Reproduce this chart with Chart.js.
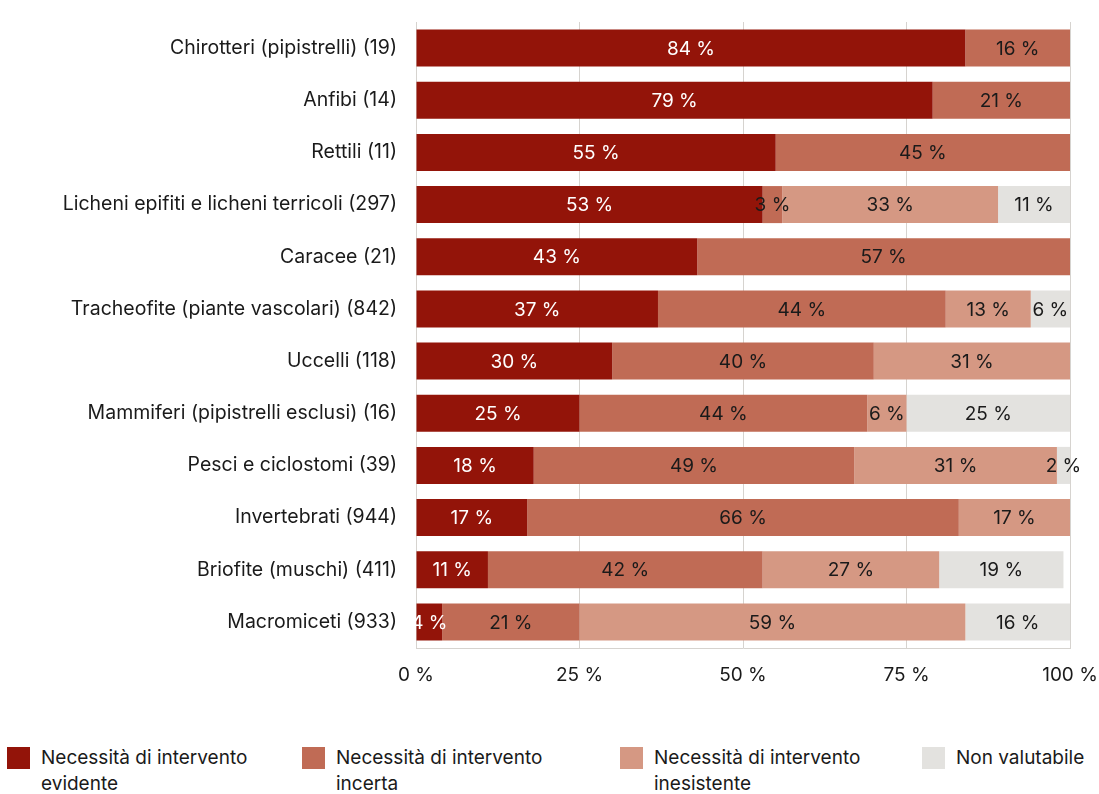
<!DOCTYPE html>
<html lang="it">
<head>
<meta charset="utf-8">
<script src="https://cdn.jsdelivr.net/npm/chart.js@4.4.1/dist/chart.umd.min.js"></script>
<style>
  html, body { margin: 0; padding: 0; background: #ffffff; }
  #wrap { position: relative; width: 1099px; height: 794px; overflow: hidden; }
  #box { position: absolute; left: 0; top: 0; width: 1099px; height: 700px; }
  #legend { position: absolute; left: 0; top: 747px; width: 1099px; height: 47px; }
  .item { position: absolute; top: 0; display: flex; align-items: flex-start; }
  .swatch { width: 23px; height: 22px; flex: none; }
  .txt { margin-left: 11px; font-family: "Inter", "Noto Sans", sans-serif; font-size: 19px;
         line-height: 26px; color: #1a1a1a; margin-top: -2px; }
</style>
</head>
<body>
<div id="wrap">
  <div id="box"><canvas id="chart"></canvas></div>
  <div id="legend"></div>
</div>
<script>
// Gruppi di organismi (numero di specie tra parentesi)
const categories = [
  'Chirotteri (pipistrelli) (19)',
  'Anfibi (14)',
  'Rettili (11)',
  'Licheni epifiti e licheni terricoli (297)',
  'Caracee (21)',
  'Tracheofite (piante vascolari) (842)',
  'Uccelli (118)',
  'Mammiferi (pipistrelli esclusi) (16)',
  'Pesci e ciclostomi (39)',
  'Invertebrati (944)',
  'Briofite (muschi) (411)',
  'Macromiceti (933)'
];

// Quote percentuali per categoria di necessità di intervento
const evidente    = [84, 79, 55, 53, 43, 37, 30, 25, 18, 17, 11, 4];
const incerta     = [16, 21, 45, 3, 57, 44, 40, 44, 49, 66, 42, 21];
const inesistente = [null, null, null, 33, null, 13, 31, 6, 31, 17, 27, 59];
const nonValutabile = [null, null, null, 11, null, 6, null, 25, 2, null, 19, 16];

const seriesNames = [
  ['Necessità di intervento', 'evidente'],
  ['Necessità di intervento', 'incerta'],
  ['Necessità di intervento', 'inesistente'],
  ['Non valutabile']
];

const xTicks = [0, 25, 50, 75, 100];

const colors = ['#931409', '#c06b55', '#d59883', '#e3e2df'];
const labelColors = ['#ffffff', '#1a1a1a', '#1a1a1a', '#1a1a1a'];
const seriesValues = [evidente, incerta, inesistente, nonValutabile];

const FONT = '"Inter", "Noto Sans", sans-serif';

const datasets = seriesValues.map((vals, i) => ({
  label: seriesNames[i].join(' '),
  data: vals,
  backgroundColor: colors[i],
  borderWidth: 0,
  barPercentage: 0.71,
  categoryPercentage: 1.0
}));

// Etichette percentuali al centro di ogni segmento
const segmentLabels = {
  id: 'segmentLabels',
  afterDatasetsDraw(chart) {
    const { ctx, chartArea } = chart;
    ctx.save();
    ctx.font = '19px ' + FONT;
    ctx.textAlign = 'center';
    ctx.textBaseline = 'middle';
    chart.data.datasets.forEach((ds, di) => {
      const meta = chart.getDatasetMeta(di);
      meta.data.forEach((bar, idx) => {
        const v = ds.data[idx];
        if (v === null || v === undefined) return;
        const p = bar.getProps(['x', 'y', 'base'], true);
        const x1 = Math.max(Math.min(p.base, p.x), chartArea.left);
        const x2 = Math.min(Math.max(p.base, p.x), chartArea.right);
        ctx.fillStyle = labelColors[di];
        ctx.fillText(v + ' %', (x1 + x2) / 2, p.y + 1);
      });
    });
    ctx.restore();
  }
};

new Chart(document.getElementById('chart'), {
  type: 'bar',
  data: { labels: categories, datasets },
  options: {
    indexAxis: 'y',
    responsive: true,
    maintainAspectRatio: false,
    animation: false,
    layout: { padding: { top: 22, right: 29, left: 0, bottom: 0 } },
    plugins: {
      legend: { display: false },
      tooltip: { enabled: false }
    },
    scales: {
      x: {
        stacked: true,
        min: 0,
        max: 100,
        afterBuildTicks(scale) { scale.ticks = xTicks.map(v => ({ value: v })); },
        afterFit(scale) {
          scale.height = 52;
          scale.paddingLeft = 0;
          scale.paddingRight = 0;
        },
        grid: { color: '#d6d3cf', lineWidth: 1, drawTicks: false },
        border: { color: '#d6d3cf' },
        ticks: {
          padding: 16,
          color: '#1a1a1a',
          font: { family: FONT, size: 19 },
          callback: v => v + ' %',
          maxRotation: 0
        }
      },
      y: {
        stacked: true,
        afterFit(scale) {
          scale.width = 416;
          scale.paddingTop = 0;
          scale.paddingBottom = 0;
        },
        grid: { display: false, drawTicks: false },
        border: { display: false },
        ticks: {
          padding: 19,
          color: '#1a1a1a',
          font: { family: FONT, size: 19.5 }
        }
      }
    }
  },
  plugins: [segmentLabels]
});

// Legenda su più righe sotto il grafico
const legendLeft = [7, 302, 620, 922];
const legend = document.getElementById('legend');
seriesNames.forEach((lines, i) => {
  const item = document.createElement('div');
  item.className = 'item';
  item.style.left = legendLeft[i] + 'px';
  const sw = document.createElement('div');
  sw.className = 'swatch';
  sw.style.background = colors[i];
  const tx = document.createElement('div');
  tx.className = 'txt';
  tx.innerHTML = lines.join('<br>');
  item.appendChild(sw);
  item.appendChild(tx);
  legend.appendChild(item);
});
</script>
</body>
</html>
